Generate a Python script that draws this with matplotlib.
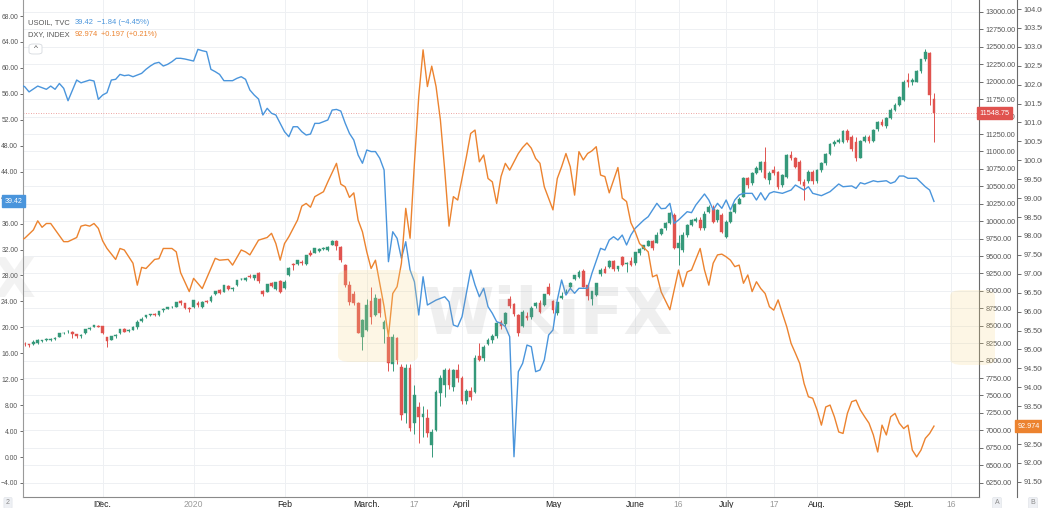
import numpy as np
import pandas as pd
import matplotlib
matplotlib.use("Agg")
import matplotlib.pyplot as plt
import matplotlib.transforms as mtransforms
from matplotlib.patches import Rectangle, FancyBboxPatch

plt.rcParams['font.family'] = ['Liberation Sans', 'DejaVu Sans']

# ---------------- data ----------------
market_holidays = ["2019-11-28", "2019-12-25", "2020-01-01", "2020-01-20", "2020-02-17",
                   "2020-04-10", "2020-05-25", "2020-07-03", "2020-09-07"]

# NAS100 daily candles (consecutive sessions starting at nas_first)
nas_first = "2019-11-05"
nas_open = [
    8245, 8235, 8240, 8255, 8280, 8292, 8295, 8310, 8345, 8392, 8420, 8415, 8375, 8360, 8390, 8450, 8480, 8500,
    8495, 8340, 8300, 8350, 8390, 8450, 8420, 8445, 8480, 8565, 8620, 8655, 8665, 8650, 8720, 8745, 8765, 8775, 8850, 8820, 8760,
    8770, 8830, 8770, 8850, 8850, 8960, 9010, 8985, 9070, 9020, 9080, 9165, 9160, 9210, 9180, 9250, 9000, 8990, 9110, 9030, 9140,
    9040, 9230, 9390, 9390, 9420, 9380, 9545, 9550, 9570, 9600, 9590, 9660, 9710, 9630, 9370, 9085, 8950, 8826, 8340,
    8440, 8850, 8650, 8880, 8450, 8340, 7950, 8320, 7910, 7250, 7900, 7100, 7340, 7190, 7180, 6790, 7005, 7530, 7650, 7860, 7620, 7870,
    7750, 7420, 7560, 7550, 8060, 8040, 8240, 8300, 8350, 8560, 8530, 8880, 8810, 8650, 8500, 8640, 8620, 8780, 8830, 8800, 9060,
    8850, 8680, 8900, 8960, 9050, 9170, 9200, 9290, 9080, 8880, 8940, 9240, 9310, 9340, 9430, 9320, 9480, 9390, 9430, 9400,
    9540, 9600, 9650, 9710, 9690, 9815, 9900, 9973, 10090, 9620, 9590, 9800, 9950, 10000, 10010, 9900, 10135, 10180, 10020, 10090, 9780, 9990,
    10135, 10250, 10350, 10620, 10550, 10690, 10730, 10850, 10590, 10740, 10700, 10520, 10640, 10950, 10900, 10850, 10560, 10570, 10710, 10570, 10730, 10830,
    10970, 11100, 11140, 11140, 11300, 11200, 11140, 10910, 11150, 11210, 11150, 11320, 11420, 11360, 11480, 11600, 11670, 11740, 12020, 11990, 12000,
    12150, 12320, 12415, 11750,
]
nas_high = [
    8270, 8245, 8290, 8305, 8300, 8330, 8325, 8340, 8396, 8410, 8445, 8425, 8385, 8375, 8450, 8475, 8510, 8505,
    8500, 8345, 8360, 8385, 8460, 8465, 8450, 8490, 8580, 8620, 8660, 8670, 8680, 8710, 8750, 8770, 8780, 8845, 8865, 8830, 8770,
    8875, 8850, 8850, 8870, 8940, 9000, 9020, 9080, 9080, 9060, 9155, 9180, 9200, 9240, 9235, 9270, 9010, 9100, 9130, 9130, 9150,
    9160, 9340, 9400, 9450, 9440, 9520, 9580, 9615, 9620, 9625, 9640, 9735, 9730, 9640, 9380, 9140, 9000, 8840, 8600,
    8880, 9050, 8950, 8900, 8580, 8400, 8380, 8340, 7950, 7950, 7950, 7650, 7400, 7350, 7300, 7020, 7580, 7790, 7890, 7900, 7880, 7950,
    7780, 7600, 7620, 8080, 8250, 8220, 8330, 8380, 8560, 8580, 8700, 8920, 8830, 8670, 8720, 8700, 8780, 8840, 8870, 8960, 9110,
    8870, 8840, 8990, 9020, 9130, 9230, 9300, 9310, 9120, 9000, 9120, 9330, 9350, 9440, 9450, 9360, 9500, 9420, 9490, 9560,
    9610, 9660, 9730, 9730, 9850, 9900, 9990, 10130, 10110, 9800, 9840, 9960, 10030, 10060, 10060, 10140, 10230, 10230, 10180, 10110, 10010, 10150,
    10260, 10340, 10630, 10640, 10700, 10790, 10870, 11068, 10720, 10790, 10720, 10680, 10960, 11000, 10920, 10880, 10600, 10730, 10730, 10750, 10850, 10980,
    11120, 11160, 11190, 11310, 11320, 11230, 11200, 11170, 11230, 11240, 11320, 11430, 11460, 11490, 11620, 11690, 11800, 12020, 12120, 12060, 12170,
    12330, 12470, 12430, 11840,
]
nas_low = [
    8215, 8190, 8230, 8235, 8270, 8285, 8280, 8290, 8340, 8380, 8400, 8330, 8330, 8330, 8385, 8440, 8475, 8480,
    8375, 8200, 8290, 8330, 8385, 8405, 8405, 8440, 8460, 8550, 8610, 8640, 8640, 8645, 8700, 8735, 8755, 8770, 8800, 8740, 8700,
    8760, 8770, 8750, 8830, 8840, 8945, 8960, 8980, 9010, 9005, 9075, 9150, 9140, 9185, 9150, 9110, 8920, 8980, 9060, 9010, 8970,
    9030, 9220, 9300, 9370, 9370, 9375, 9500, 9545, 9560, 9585, 9575, 9655, 9580, 9420, 9050, 8800, 8800, 8390, 8150,
    8420, 8520, 8640, 8620, 8250, 7850, 7850, 7950, 7150, 7100, 6990, 6950, 6820, 6900, 6900, 6620, 6990, 7350, 7480, 7600, 7560, 7700,
    7380, 7380, 7440, 7540, 7990, 8000, 8220, 8250, 8330, 8450, 8500, 8760, 8640, 8350, 8480, 8580, 8600, 8750, 8680, 8780, 8940,
    8680, 8650, 8880, 8950, 9040, 9150, 9180, 9060, 8870, 8800, 8930, 9220, 9250, 9330, 9290, 9280, 9350, 9270, 9360, 9370,
    9520, 9590, 9640, 9590, 9680, 9800, 9880, 9960, 9600, 9370, 9560, 9780, 9930, 9990, 9880, 9880, 10120, 9970, 9990, 9830, 9760, 9980,
    10120, 10240, 10340, 10480, 10520, 10670, 10700, 10600, 10540, 10660, 10460, 10490, 10620, 10880, 10760, 10540, 10300, 10550, 10540, 10550, 10700, 10800,
    10950, 11080, 11120, 11120, 11130, 11000, 10860, 10900, 11130, 11120, 11130, 11300, 11360, 11340, 11460, 11580, 11650, 11730, 11930, 11960, 11990,
    12130, 12300, 11660, 11140,
]
nas_close = [
    8236, 8225, 8266, 8302, 8290, 8308, 8313, 8330, 8394, 8403, 8423, 8376, 8354, 8365, 8447, 8470, 8505, 8487,
    8391, 8280, 8350, 8370, 8450, 8415, 8440, 8480, 8560, 8600, 8650, 8660, 8650, 8705, 8735, 8765, 8770, 8840, 8820, 8760, 8735,
    8872, 8795, 8845, 8845, 8915, 8995, 8970, 9080, 9020, 9040, 9150, 9175, 9190, 9195, 9230, 9145, 8955, 9095, 9075, 9125, 8990,
    9125, 9335, 9370, 9445, 9400, 9515, 9520, 9610, 9595, 9620, 9635, 9718, 9650, 9443, 9085, 8845, 8820, 8396, 8580,
    8800, 8620, 8900, 8680, 8560, 7970, 8340, 8010, 7220, 7900, 7030, 7500, 7195, 7230, 6960, 6980, 7555, 7750, 7870, 7650, 7860, 7750,
    7415, 7560, 7480, 8040, 8010, 8200, 8300, 8350, 8540, 8490, 8680, 8780, 8670, 8400, 8700, 8610, 8760, 8820, 8700, 8950, 8960,
    8719, 8834, 8930, 8984, 9109, 9225, 9277, 9063, 8929, 8992, 9114, 9302, 9257, 9432, 9311, 9352, 9372, 9398, 9368, 9555,
    9598, 9653, 9714, 9615, 9800, 9883, 9973, 10117, 9615, 9690, 9800, 9940, 10010, 10030, 9900, 10100, 10207, 9990, 10160, 9850, 9990, 10135,
    10250, 10320, 10620, 10520, 10690, 10760, 10853, 10615, 10690, 10690, 10495, 10660, 10950, 10900, 10780, 10570, 10500, 10710, 10570, 10730, 10835, 10970,
    11110, 11140, 11165, 11300, 11160, 11030, 10910, 11150, 11200, 11150, 11310, 11420, 11380, 11480, 11600, 11670, 11780, 12000, 11990, 12030, 12150,
    12320, 12430, 11810, 11549,
]
nas_last = 11548.75

# USOIL (TVC) closes, left scale
oil_dates = [
    "2019-11-04", "2019-11-05", "2019-11-06", "2019-11-08", "2019-11-12", "2019-11-13", "2019-11-14", "2019-11-15",
    "2019-11-18", "2019-11-19", "2019-11-21", "2019-11-22", "2019-11-26", "2019-11-27", "2019-11-29",
    "2019-12-02", "2019-12-03", "2019-12-04", "2019-12-05", "2019-12-06", "2019-12-09", "2019-12-10", "2019-12-11",
    "2019-12-13", "2019-12-16", "2019-12-17", "2019-12-18", "2019-12-19", "2019-12-20", "2019-12-23", "2019-12-24",
    "2019-12-26", "2019-12-27", "2019-12-30",
    "2020-01-02", "2020-01-03", "2020-01-06", "2020-01-07", "2020-01-08", "2020-01-09", "2020-01-10", "2020-01-13",
    "2020-01-15", "2020-01-16", "2020-01-17", "2020-01-21", "2020-01-22", "2020-01-23", "2020-01-24", "2020-01-27",
    "2020-01-28", "2020-01-29", "2020-01-30",
    "2020-02-03", "2020-02-04", "2020-02-05", "2020-02-06", "2020-02-07", "2020-02-10", "2020-02-11", "2020-02-12",
    "2020-02-13", "2020-02-18", "2020-02-19", "2020-02-20", "2020-02-21", "2020-02-24", "2020-02-25", "2020-02-26",
    "2020-02-27", "2020-02-28",
    "2020-03-02", "2020-03-03", "2020-03-04", "2020-03-05", "2020-03-06", "2020-03-09", "2020-03-10", "2020-03-11",
    "2020-03-12", "2020-03-13", "2020-03-16", "2020-03-17", "2020-03-18", "2020-03-19", "2020-03-20", "2020-03-24",
    "2020-03-26", "2020-03-27", "2020-03-30", "2020-03-31",
    "2020-04-01", "2020-04-03", "2020-04-06", "2020-04-07", "2020-04-08", "2020-04-09", "2020-04-13", "2020-04-14",
    "2020-04-15", "2020-04-16", "2020-04-17", "2020-04-20", "2020-04-21", "2020-04-22", "2020-04-23", "2020-04-24",
    "2020-04-27", "2020-04-28", "2020-04-29", "2020-04-30",
    "2020-05-01", "2020-05-04", "2020-05-05", "2020-05-06", "2020-05-07", "2020-05-08", "2020-05-11", "2020-05-13",
    "2020-05-14", "2020-05-18", "2020-05-19", "2020-05-20", "2020-05-21", "2020-05-22", "2020-05-26", "2020-05-27",
    "2020-05-28", "2020-05-29",
    "2020-06-02", "2020-06-03", "2020-06-05", "2020-06-08", "2020-06-09", "2020-06-10", "2020-06-11", "2020-06-12",
    "2020-06-16", "2020-06-17", "2020-06-18", "2020-06-22", "2020-06-23", "2020-06-24", "2020-06-25", "2020-06-26",
    "2020-06-29", "2020-06-30",
    "2020-07-01", "2020-07-02", "2020-07-06", "2020-07-08", "2020-07-09", "2020-07-10", "2020-07-13", "2020-07-14",
    "2020-07-15", "2020-07-17", "2020-07-21", "2020-07-22", "2020-07-24", "2020-07-27", "2020-07-28", "2020-07-30",
    "2020-08-03", "2020-08-05", "2020-08-06", "2020-08-10", "2020-08-11", "2020-08-12", "2020-08-13", "2020-08-17",
    "2020-08-18", "2020-08-20", "2020-08-21", "2020-08-24", "2020-08-25", "2020-08-26", "2020-08-27", "2020-08-31",
    "2020-09-02", "2020-09-03", "2020-09-04",
]
oil_close = [
    57.40, 57.10, 56.30, 57.20, 56.70, 57.20, 56.70, 57.60,
    56.85, 54.94, 58.13, 57.70, 58.13, 57.98, 55.15,
    55.82, 56.18, 58.13, 58.24, 59.00, 58.80, 58.90, 58.64,
    59.16, 59.78, 60.29, 60.70, 60.86, 60.29, 60.55, 60.96,
    61.48, 61.48, 61.37,
    61.06, 62.86, 62.65, 62.50, 59.78, 59.42, 59.00, 58.03,
    58.03, 58.39, 58.64, 58.24, 56.59, 55.82, 55.20, 52.74,
    53.77, 53.00, 52.74,
    50.16, 49.39, 50.93, 50.93, 50.16, 49.65, 49.80, 51.45,
    51.45, 51.97, 53.50, 53.60, 53.35, 51.50, 49.90, 48.88,
    46.57, 45.30,
    47.34, 47.10, 47.10, 46.06, 44.26, 30.12, 34.74, 33.72,
    30.64, 33.20, 28.84, 27.04, 21.90, 27.80, 23.44, 24.20,
    24.72, 23.95, 20.36, 20.10,
    21.64, 28.84, 26.53, 24.72, 26.02, 23.19, 22.16, 20.87,
    20.62, 20.10, 18.56, 0.05, 13.16, 14.45, 17.27, 17.01,
    13.16, 13.42, 14.96, 18.82,
    19.59, 24.21, 27.30, 24.98, 26.02, 25.25, 26.02, 26.02,
    28.33, 32.18, 31.92, 33.46, 33.97, 33.46, 34.23, 32.70,
    34.23, 35.27,
    36.55, 37.06, 39.12, 38.30, 38.35, 39.12, 36.03, 36.55,
    37.83, 37.68, 38.86, 40.56, 39.63, 38.09, 39.12, 38.35,
    39.63, 38.09,
    39.63, 40.40, 40.66, 40.66, 39.63, 40.76, 39.63, 40.66,
    40.92, 40.66, 41.17, 41.94, 41.17, 41.68, 40.66, 40.30,
    40.92, 42.10, 41.68, 41.80, 41.43, 42.30, 42.10, 42.60,
    42.45, 42.60, 42.20, 42.45, 43.33, 43.33, 42.98, 42.98,
    41.68, 41.17, 39.42,
]
oil_change = "\u22121.84 (\u22124.45%)"

# DXY index closes, second right scale
dxy_dates = [
    "2019-11-04", "2019-11-05", "2019-11-07", "2019-11-08", "2019-11-11", "2019-11-12", "2019-11-13", "2019-11-14",
    "2019-11-18", "2019-11-19", "2019-11-21", "2019-11-22", "2019-11-25", "2019-11-26", "2019-11-27", "2019-11-29",
    "2019-12-02", "2019-12-03", "2019-12-05", "2019-12-06", "2019-12-09", "2019-12-11", "2019-12-12", "2019-12-13",
    "2019-12-16", "2019-12-18", "2019-12-19", "2019-12-20", "2019-12-24", "2019-12-26", "2019-12-27", "2019-12-31",
    "2020-01-02", "2020-01-06", "2020-01-08", "2020-01-09", "2020-01-10", "2020-01-14", "2020-01-15", "2020-01-17",
    "2020-01-21", "2020-01-22", "2020-01-24", "2020-01-28", "2020-01-29", "2020-01-30", "2020-01-31",
    "2020-02-03", "2020-02-04", "2020-02-06", "2020-02-07", "2020-02-10", "2020-02-11", "2020-02-12", "2020-02-14",
    "2020-02-18", "2020-02-20", "2020-02-21", "2020-02-24", "2020-02-25", "2020-02-26", "2020-02-27", "2020-02-28",
    "2020-03-02", "2020-03-03", "2020-03-04", "2020-03-05", "2020-03-06", "2020-03-09", "2020-03-10", "2020-03-11",
    "2020-03-12", "2020-03-13", "2020-03-16", "2020-03-17", "2020-03-18", "2020-03-19", "2020-03-20", "2020-03-23",
    "2020-03-24", "2020-03-25", "2020-03-26", "2020-03-27", "2020-03-30", "2020-03-31",
    "2020-04-01", "2020-04-02", "2020-04-03", "2020-04-06", "2020-04-07", "2020-04-08", "2020-04-09", "2020-04-13",
    "2020-04-14", "2020-04-15", "2020-04-16", "2020-04-17", "2020-04-21", "2020-04-22", "2020-04-23", "2020-04-24",
    "2020-04-27", "2020-04-28", "2020-04-29",
    "2020-05-01", "2020-05-04", "2020-05-05", "2020-05-06", "2020-05-07", "2020-05-08", "2020-05-11", "2020-05-12",
    "2020-05-13", "2020-05-14", "2020-05-15", "2020-05-18", "2020-05-19", "2020-05-20", "2020-05-22", "2020-05-26",
    "2020-05-27", "2020-05-28", "2020-05-29",
    "2020-06-01", "2020-06-03", "2020-06-04", "2020-06-05", "2020-06-08", "2020-06-10", "2020-06-12", "2020-06-15",
    "2020-06-16", "2020-06-17", "2020-06-19", "2020-06-22", "2020-06-23", "2020-06-24", "2020-06-25", "2020-06-26",
    "2020-06-29", "2020-06-30",
    "2020-07-01", "2020-07-02", "2020-07-06", "2020-07-07", "2020-07-08", "2020-07-09", "2020-07-10", "2020-07-13",
    "2020-07-14", "2020-07-15", "2020-07-16", "2020-07-17", "2020-07-20", "2020-07-21", "2020-07-22", "2020-07-23",
    "2020-07-24", "2020-07-27", "2020-07-28", "2020-07-29", "2020-07-30", "2020-07-31",
    "2020-08-03", "2020-08-04", "2020-08-05", "2020-08-06", "2020-08-07", "2020-08-10", "2020-08-11", "2020-08-12",
    "2020-08-13", "2020-08-14", "2020-08-17", "2020-08-18", "2020-08-19", "2020-08-20", "2020-08-21", "2020-08-24",
    "2020-08-25", "2020-08-26", "2020-08-27", "2020-08-28", "2020-08-31",
    "2020-09-01", "2020-09-02", "2020-09-03", "2020-09-04",
]
dxy_close = [
    97.89, 97.94, 98.16, 98.40, 98.23, 98.33, 98.33, 98.17,
    97.85, 97.85, 97.96, 98.26, 98.29, 98.26, 98.33, 98.20,
    97.87, 97.67, 97.38, 97.67, 97.63, 97.28, 96.70, 97.17,
    97.14, 97.38, 97.40, 97.67, 97.67, 97.58, 97.03, 96.53,
    96.88, 96.61, 97.14, 97.41, 97.36, 97.38, 97.23, 97.63,
    97.58, 97.50, 97.89, 97.96, 98.07, 97.80, 97.36,
    97.80, 97.98, 98.42, 98.79, 98.86, 98.76, 99.04, 99.17,
    99.43, 99.92, 99.37, 99.30, 99.02, 99.14, 98.42, 98.11,
    97.58, 97.14, 97.36, 96.75, 96.13, 95.34, 96.48, 96.66,
    97.28, 98.73, 97.94, 99.92, 101.68, 102.92, 101.95, 102.49,
    101.95, 101.07, 99.74, 98.26, 99.04, 98.95,
    99.52, 100.09, 100.71, 100.80, 99.96, 100.14, 99.52, 99.43,
    98.86, 99.57, 99.92, 99.74, 100.18, 100.34, 100.46, 100.32,
    100.05, 99.92, 99.30,
    98.69, 99.52, 99.83, 100.18, 99.83, 99.08, 100.23, 100.01,
    100.18, 100.25, 100.36, 99.61, 99.57, 99.14, 99.81, 99.00,
    98.91, 98.35, 98.11,
    97.80, 97.58, 96.92, 96.97, 96.52, 96.05, 97.10, 96.66,
    97.05, 97.10, 97.67, 97.10, 96.70, 97.28, 97.50, 97.52,
    97.45, 97.36,
    97.19, 97.23, 96.75, 96.97, 96.53, 96.79, 96.61, 96.48,
    96.13, 96.04, 96.31, 95.95, 95.60, 95.16, 94.90, 94.63,
    94.10, 93.75, 93.71, 93.40, 93.00, 93.48,
    93.53, 93.22, 92.82, 92.78, 93.31, 93.62, 93.66, 93.40,
    93.22, 93.05, 92.74, 92.29, 93.00, 92.74, 93.22, 93.31,
    93.05, 92.91, 93.00, 92.34, 92.16,
    92.34, 92.65, 92.78, 92.974,
]
dxy_change = "+0.197 (+0.21%)"

# axis ticks
oil_ticks = list(range(-4, 69, 4))
nas_ticks = list(range(6250, 13001, 250))
dxy_ticks = [91.5 + 0.5 * k for k in range(26)]
xtick_dates = ["2019-12-02", "2020-01-02", "2020-02-03", "2020-03-02", "2020-03-17", "2020-04-01",
               "2020-05-01", "2020-05-29", "2020-06-12", "2020-06-29", "2020-07-15", "2020-07-29",
               "2020-08-26", "2020-09-11"]
xtick_labels = ["Dec.", "2020", "Feb", "March.", "17", "April", "May", "June", "16", "July", "17",
                "Aug.", "Sept.", "16"]
faint_label_date = "2019-11-29"
faint_label = "12"

# ---------------- styling ----------------
UP, DN = "#35997a", "#e0534f"
BLUE, ORANGE = "#4a95dc", "#ec832f"
GRID = "#eef0f3"
TICKC = "#555555"

assert len(nas_open) == len(nas_high) == len(nas_low) == len(nas_close)
assert len(oil_dates) == len(oil_close)
assert len(dxy_dates) == len(dxy_close)

sessions = pd.bdate_range("2019-10-29", "2020-09-30")
sessions = sessions[~sessions.isin(pd.to_datetime(market_holidays))]


def sess(dates):
    idx = sessions.get_indexer(pd.to_datetime(dates))
    assert (idx >= 0).all(), dates
    return idx


W, H = 1042, 508
fig = plt.figure(figsize=(W / 100, H / 100), dpi=100)
PL, PR, PB, PT = 23, 979, 497, 0
ax = fig.add_axes([PL / W, 1 - PB / H, (PR - PL) / W, (PB - PT) / H])
ax_oil = ax.twinx()
ax_dxy = ax.twinx()

ax.yaxis.tick_right()
ax.yaxis.set_label_position('right')

# candles
nas_x = np.arange(len(nas_close)) + sess([nas_first])[0]
o = np.array(nas_open, float); h = np.array(nas_high, float)
l = np.array(nas_low, float); c = np.array(nas_close, float)
cols = np.where(c >= o, UP, DN)
ax.vlines(nas_x, l, h, colors=cols, lw=0.7, zorder=2)
bw = 0.64
for xi, oi, ci, col in zip(nas_x, o, c, cols):
    lo = min(oi, ci)
    hgt = max(abs(ci - oi), 8)
    ax.add_patch(Rectangle((xi - bw / 2, lo), bw, hgt, facecolor=col, edgecolor=col,
                           lw=0.3, zorder=3))
ax.axhline(nas_last, color=DN, lw=0.6, ls=(0, (1, 2)), alpha=0.7, zorder=1)

ax.set_xlim(4.6, 225.4)
ax.set_ylim(6044, 13172)
ax.set_yticks(nas_ticks)
ax.set_yticklabels([f"{v:.2f}" for v in nas_ticks])
ax.set_xticks(sess(xtick_dates))
ax.set_xticklabels(xtick_labels)
for lbl, s in zip(ax.get_xticklabels(), xtick_labels):
    lbl.set_color('#9a9a9a' if s.isdigit() else '#1e1e1e')
ax.tick_params(axis='x', length=0, pad=2.2, labelsize=6.2)
ax.tick_params(axis='y', length=3, width=0.6, colors=TICKC, labelsize=5.2, pad=1.5)
ax.grid(True, color=GRID, lw=0.7)
ax.set_axisbelow(True)
for s in ('top', 'left'):
    ax.spines[s].set_visible(False)
ax.spines['right'].set_color('#6b6b6b')
ax.spines['right'].set_linewidth(0.8)
ax.spines['bottom'].set_color('#8a8a8a')
ax.spines['bottom'].set_linewidth(0.8)

trans_x = mtransforms.blended_transform_factory(ax.transData, ax.transAxes)
ax.annotate(faint_label, xy=(sess([faint_label_date])[0], 0), xycoords=trans_x,
            xytext=(0, -2.2), textcoords='offset points', ha='center', va='top',
            fontsize=6.2, color='#9a9a9a', annotation_clip=False)

# oil line (left scale)
ax_oil.plot(sess(oil_dates), oil_close, color=BLUE, lw=1.0, zorder=4, solid_joinstyle='round')
ax_oil.yaxis.tick_left()
ax_oil.set_ylim(-6.16, 70.47)
ax_oil.set_yticks(oil_ticks)
ax_oil.set_yticklabels([f"{v:.2f}".replace("-", "\u2212") for v in oil_ticks])
ax_oil.tick_params(axis='y', length=2.5, width=0.6, colors=TICKC, labelsize=4.9, pad=1.0)
for s in ('top', 'right', 'bottom'):
    ax_oil.spines[s].set_visible(False)
ax_oil.spines['left'].set_color('#9a9a9a')
ax_oil.spines['left'].set_linewidth(0.8)

# dxy line (outer right scale)
ax_dxy.plot(sess(dxy_dates), dxy_close, color=ORANGE, lw=1.0, zorder=5, solid_joinstyle='round')
ax_dxy.set_ylim(91.10, 104.238)
ax_dxy.set_yticks(dxy_ticks)
ax_dxy.set_yticklabels([f"{v:.3f}" for v in dxy_ticks])
ax_dxy.spines['right'].set_position(('axes', 1 + 38 / 956))
ax_dxy.tick_params(axis='y', length=3, width=0.6, colors=TICKC, labelsize=5.2, pad=1.5)
for s in ('top', 'left', 'bottom'):
    ax_dxy.spines[s].set_visible(False)
ax_dxy.spines['right'].set_color('#6b6b6b')
ax_dxy.spines['right'].set_linewidth(0.8)

# last-value price tags
t_oil = mtransforms.blended_transform_factory(ax_oil.transAxes, ax_oil.transData)
ax_oil.text(-0.0008, oil_close[-1], f"{oil_close[-1]:.2f}", transform=t_oil, ha='right', va='center',
            fontsize=5.0, color='white', clip_on=False, zorder=10,
            bbox=dict(boxstyle='square,pad=0.35', fc=BLUE, ec=BLUE))
t_nas = mtransforms.blended_transform_factory(ax.transAxes, ax.transData)
ax.text(1.0008, nas_last, f"{nas_last:.2f}", transform=t_nas, ha='left', va='center',
        fontsize=5.2, color='white', clip_on=False, zorder=10,
        bbox=dict(boxstyle='square,pad=0.35', fc=DN, ec=DN))
t_dxy = mtransforms.blended_transform_factory(ax_dxy.transAxes, ax_dxy.transData)
ax_dxy.text(1 + 38 / 956 + 0.001, dxy_close[-1], f"{dxy_close[-1]:.3f}", transform=t_dxy,
            ha='left', va='center', fontsize=5.2, color='white', clip_on=False, zorder=10,
            bbox=dict(boxstyle='square,pad=0.35', fc=ORANGE, ec=ORANGE))


# legend / header texts: each piece follows the previous one
def legend_row(yp, pieces, size=5.4):
    prev = fig.text(28.5 / W, 1 - yp / H, pieces[0][0], color=pieces[0][1], fontsize=size,
                    ha='left', va='center')
    for s, col, gap in pieces[1:]:
        prev = fig.add_artist(matplotlib.text.Annotation(
            s, xy=(1, 0.5), xycoords=prev, xytext=(gap, 0), textcoords='offset points',
            ha='left', va='center', fontsize=size, color=col))


legend_row(22.5, [("USOIL, TVC", '#555555'), (f"{oil_close[-1]:.2f}", BLUE, 3.2),
                  (oil_change, BLUE, 2.6)])
legend_row(35, [("DXY, INDEX", '#555555'), (f"{dxy_close[-1]:.3f}", ORANGE, 3.2),
                (dxy_change, ORANGE, 2.6)])
fig.patches.append(FancyBboxPatch((29 / W, 1 - 54 / H), 13 / W, 10 / H,
                                  boxstyle='round,pad=0.0,rounding_size=0.004',
                                  transform=fig.transFigure, fc='white', ec='#d6d9de', lw=0.6))
fig.text(35.5 / W, 1 - 49 / H, "^", fontsize=6, color='#444444', ha='center', va='center')

# bottom scale buttons
for xp, s in ((8, "2"), (997, "A"), (1033, "B")):
    fig.text(xp / W, 1 - 503 / H, s, fontsize=5.0, color='#8a8a8a', ha='center', va='center',
             bbox=dict(boxstyle='round,pad=0.3,rounding_size=0.2', fc='#eef0f4', ec='#e2e5ea', lw=0.5))

# faint watermark
fig.patches.append(FancyBboxPatch((338 / W, 1 - 362 / H), 80 / W, 92 / H,
                                  boxstyle='round,pad=0.0,rounding_size=0.012',
                                  transform=fig.transFigure, fc='#f7d98a', ec='none', alpha=0.22))
fig.patches.append(FancyBboxPatch((950 / W, 1 - 365 / H), 45 / W, 75 / H,
                                  boxstyle='round,pad=0.0,rounding_size=0.012',
                                  transform=fig.transFigure, fc='#f7d98a', ec='none', alpha=0.22))
fig.text(548 / W, 1 - 316 / H, "WikiFX", fontsize=46, fontweight='bold', color='#9a9a9a',
         alpha=0.15, ha='center', va='center', family='DejaVu Sans')
fig.text(14 / W, 1 - 282 / H, "X", fontsize=40, fontweight='bold', color='#9a9a9a',
         alpha=0.12, ha='center', va='center', family='DejaVu Sans')

fig.savefig("out.png", dpi=100)
